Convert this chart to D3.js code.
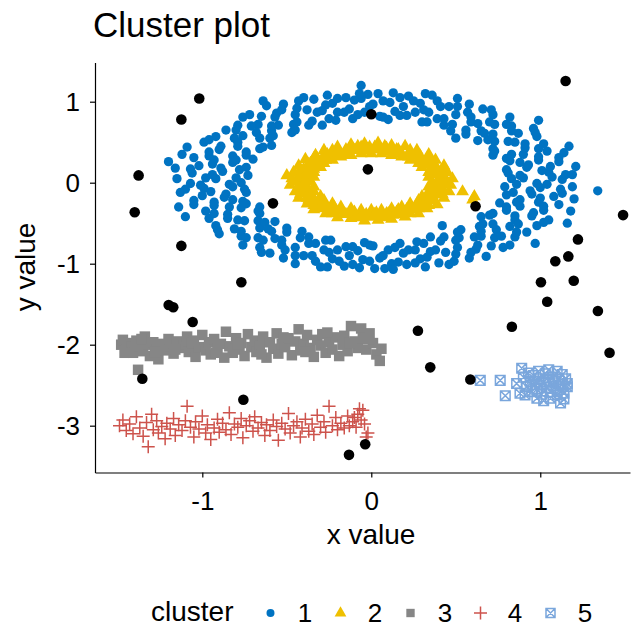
<!DOCTYPE html>
<html>
<head>
<meta charset="utf-8">
<script src="https://cdn.jsdelivr.net/npm/d3@7"></script>
<style>
  body { margin: 0; background: #fff; }
  svg { font-family: "Liberation Sans", Arial, Helvetica, sans-serif; }
</style>
</head>
<body>
<svg id="chart" width="643" height="628"></svg>
<script>
// cluster labels and the jco palette used by fviz_cluster
const clusterNames = ["1", "2", "3", "4", "5"];
const clusterColors = ["#0073C2", "#EFC000", "#868686", "#CD534C", "#7AA6DC"];
const xTicks = [-1, 0, 1];
const yTicks = [1, 0, -1, -2, -3];

// cluster 1: the big ring
const cluster1 = [
  [0.83,0.05],[0.98,-0.01],[1.13,0.04],[0.88,0.09],[1.05,0.13],[1.15,0.10],[0.80,0.16],[0.92,0.19],[1.06,0.20],
  [0.88,0.25],[0.99,0.28],[1.11,0.31],[0.80,0.30],[0.90,0.35],[1.04,0.39],[0.72,0.34],[0.91,0.43],[1.02,0.48],
  [0.72,0.42],[0.85,0.50],[0.98,0.57],[0.73,0.51],[0.87,0.61],[0.96,0.67],[0.63,0.52],[0.72,0.60],[0.83,0.70],
  [0.65,0.64],[0.73,0.72],[0.82,0.81],[0.56,0.65],[0.63,0.73],[0.72,0.84],[0.47,0.64],[0.59,0.81],[0.66,0.91],
  [0.43,0.71],[0.50,0.84],[0.58,0.97],[0.39,0.79],[0.46,0.94],[0.51,1.04],[0.30,0.75],[0.34,0.87],[0.39,1.01],
  [0.26,0.87],[0.29,0.98],[0.32,1.10],[0.17,0.83],[0.19,0.94],[0.22,1.07],[0.10,0.78],[0.11,0.99],[0.13,1.11],
  [0.05,0.82],[0.01,0.97],[0.04,1.10],[-0.04,0.87],[-0.06,1.04],[-0.07,1.10],[-0.11,0.79],[-0.13,0.91],[-0.15,1.05],
  [-0.20,0.87],[-0.23,0.98],[-0.26,1.08],[-0.25,0.79],[-0.29,0.89],[-0.34,1.03],[-0.29,0.71],[-0.38,0.90],[-0.43,1.01],
  [-0.37,0.71],[-0.45,0.84],[-0.52,0.97],[-0.46,0.72],[-0.56,0.86],[-0.62,0.95],[-0.47,0.62],[-0.55,0.71],[-0.65,0.82],
  [-0.59,0.64],[-0.67,0.72],[-0.76,0.81],[-0.60,0.55],[-0.68,0.62],[-0.79,0.71],[-0.59,0.46],[-0.76,0.58],[-0.86,0.65],
  [-0.66,0.42],[-0.79,0.50],[-0.92,0.57],[-0.74,0.38],[-0.89,0.45],[-0.99,0.50],[-0.70,0.29],[-0.82,0.33],[-0.96,0.38],
  [-0.82,0.25],[-0.93,0.28],[-1.05,0.31],[-0.78,0.16],[-0.89,0.18],[-1.02,0.21],[-0.73,0.09],[-0.94,0.10],[-1.06,0.12],
  [-0.77,0.00],[-0.92,0.05],[-1.07,-0.01],[-0.82,-0.05],[-0.99,-0.07],[-1.10,-0.08],[-0.74,-0.12],[-0.86,-0.14],[-1.00,-0.16],
  [-0.82,-0.21],[-0.93,-0.24],[-1.05,-0.27],[-0.74,-0.26],[-0.84,-0.30],[-0.98,-0.35],[-0.66,-0.30],[-0.85,-0.39],[-0.96,-0.44],
  [-0.66,-0.38],[-0.79,-0.46],[-0.92,-0.53],[-0.67,-0.47],[-0.81,-0.57],[-0.90,-0.63],[-0.57,-0.48],[-0.66,-0.56],[-0.77,-0.66],
  [-0.59,-0.60],[-0.67,-0.68],[-0.76,-0.77],[-0.50,-0.61],[-0.57,-0.69],[-0.66,-0.80],[-0.41,-0.60],[-0.53,-0.77],[-0.60,-0.87],
  [-0.37,-0.67],[-0.45,-0.80],[-0.52,-0.93],[-0.33,-0.75],[-0.40,-0.90],[-0.45,-1.00],[-0.24,-0.71],[-0.28,-0.83],[-0.33,-0.97],
  [-0.20,-0.83],[-0.23,-0.94],[-0.26,-1.04],[-0.11,-0.79],[-0.13,-0.90],[-0.16,-1.03],[-0.04,-0.74],[-0.05,-0.95],[-0.07,-1.05],
  [0.01,-0.78],[0.05,-0.93],[0.02,-1.06],[0.10,-0.83],[0.12,-1.00],[0.13,-1.07],[0.17,-0.75],[0.19,-0.87],[0.21,-1.01],
  [0.26,-0.83],[0.29,-0.94],[0.32,-1.04],[0.31,-0.75],[0.35,-0.85],[0.40,-0.99],[0.35,-0.67],[0.44,-0.86],[0.49,-0.97],
  [0.43,-0.67],[0.51,-0.80],[0.58,-0.93],[0.52,-0.68],[0.62,-0.82],[0.68,-0.91],[0.53,-0.58],[0.61,-0.67],[0.71,-0.78],
  [0.65,-0.60],[0.73,-0.68],[0.82,-0.77],[0.66,-0.51],[0.74,-0.58],[0.85,-0.67],[0.65,-0.42],[0.82,-0.54],[0.92,-0.61],
  [0.72,-0.38],[0.85,-0.46],[0.98,-0.53],[0.80,-0.34],[0.95,-0.41],[1.05,-0.46],[0.76,-0.25],[0.88,-0.29],[1.02,-0.34],
  [0.88,-0.21],[0.99,-0.24],[1.11,-0.27],[0.84,-0.12],[0.95,-0.14],[1.08,-0.17],[0.79,-0.05],[1.00,-0.06],[1.12,-0.08],
  [0.90,0.06],[1.07,0.07],[0.81,0.12],[1.01,0.15],[0.93,0.22],[1.11,0.26],[0.82,0.27],[0.99,0.32],[0.83,0.35],[0.99,0.42],
  [0.73,0.39],[0.91,0.48],[0.81,0.51],[0.97,0.62],[0.69,0.53],[0.83,0.64],[0.67,0.61],[0.80,0.72],[0.56,0.60],[0.70,0.75],
  [0.59,0.75],[0.71,0.90],[0.48,0.72],[0.57,0.87],[0.43,0.79],[0.51,0.94],[0.33,0.75],[0.41,0.94],[0.31,0.90],[0.36,1.08],
  [0.21,0.83],[0.25,1.01],[0.14,0.88],[0.17,1.05],[0.07,0.81],[0.07,1.01],[-0.01,0.94],[-0.02,1.09],[-0.08,0.84],[-0.10,1.02],
  [-0.16,0.87],[-0.20,1.04],[-0.21,0.77],[-0.27,0.96],[-0.32,0.87],[-0.40,1.05],[-0.35,0.76],[-0.44,0.92],[-0.44,0.75],[-0.53,0.90],
  [-0.45,0.65],[-0.57,0.81],[-0.59,0.70],[-0.72,0.84],[-0.58,0.58],[-0.71,0.70],[-0.66,0.55],[-0.80,0.65],[-0.64,0.44],[-0.81,0.55],
  [-0.79,0.45],[-0.96,0.53],[-0.74,0.34],[-0.90,0.41],[-0.80,0.28],[-0.96,0.33],[-0.74,0.19],[-0.94,0.23],[-0.88,0.14],[-1.07,0.17],
  [-0.80,0.06],[-0.98,0.06],[-0.84,-0.02],[-1.01,-0.03],[-0.75,-0.08],[-0.95,-0.11],[-0.87,-0.18],[-1.05,-0.22],[-0.76,-0.23],[-0.93,-0.28],
  [-0.77,-0.31],[-0.93,-0.38],[-0.67,-0.35],[-0.85,-0.44],[-0.75,-0.47],[-0.91,-0.58],[-0.63,-0.49],[-0.77,-0.60],[-0.61,-0.57],[-0.74,-0.68],
  [-0.50,-0.56],[-0.64,-0.71],[-0.53,-0.71],[-0.65,-0.86],[-0.42,-0.68],[-0.51,-0.83],[-0.37,-0.75],[-0.45,-0.90],[-0.27,-0.71],[-0.35,-0.90],
  [-0.25,-0.86],[-0.30,-1.04],[-0.15,-0.79],[-0.19,-0.97],[-0.08,-0.84],[-0.11,-1.01],[-0.01,-0.77],[-0.01,-0.97],[0.07,-0.90],[0.08,-1.06],
  [0.14,-0.80],[0.16,-0.98],[0.22,-0.83],[0.26,-0.99],[0.27,-0.73],[0.33,-0.92],[0.38,-0.83],[0.46,-1.01],[0.41,-0.72],[0.50,-0.88],
  [0.50,-0.71],[0.59,-0.86],[0.51,-0.61],[0.63,-0.77],[0.65,-0.66],[0.78,-0.80],[0.64,-0.54],[0.77,-0.66],[0.72,-0.51],[0.86,-0.61],
  [0.70,-0.40],[0.87,-0.51],[0.85,-0.41],[1.02,-0.49],[0.80,-0.30],[0.96,-0.37],[0.86,-0.24],[1.02,-0.29],[0.80,-0.15],[1.00,-0.19],
  [0.94,-0.10],[1.13,-0.13],[0.86,-0.02],[1.04,-0.02],
  [1.34,-0.10],[0.99,0.77],[-0.06,1.20],[-1.20,0.26],[-0.64,1.01],[1.19,0.10],[1.14,0.37],[0.50,0.55],[0.42,-0.53],[0.97,-0.75],
  [-1.15,0.05],[-1.13,-0.12],[-1.16,0.18],[-1.12,0.35],[-1.14,-0.30],[-1.10,-0.42],[-1.09,0.44],
  [1.19,-0.05],[1.21,0.20],[1.18,-0.35],[1.17,0.45],[1.20,-0.20],[1.16,-0.50]
];

// cluster 2: the small inner ring
const cluster2 = [
  [0.36,0.01],[0.45,0.01],[0.40,0.04],[0.48,0.05],[0.34,0.07],[0.42,0.09],[0.37,0.11],[0.45,0.13],[0.34,0.13],[0.42,0.16],
  [0.36,0.18],[0.43,0.21],[0.30,0.19],[0.37,0.23],[0.31,0.23],[0.38,0.28],[0.28,0.24],[0.34,0.30],[0.28,0.29],[0.34,0.35],
  [0.23,0.28],[0.28,0.34],[0.22,0.32],[0.27,0.40],[0.18,0.32],[0.23,0.40],[0.17,0.37],[0.20,0.45],[0.12,0.34],[0.15,0.41],
  [0.10,0.38],[0.12,0.46],[0.06,0.36],[0.08,0.45],[0.03,0.41],[0.04,0.49],[0.00,0.36],[-0.01,0.44],[-0.03,0.39],[-0.04,0.48],
  [-0.06,0.36],[-0.08,0.45],[-0.10,0.40],[-0.12,0.47],[-0.12,0.34],[-0.15,0.41],[-0.16,0.35],[-0.20,0.44],[-0.18,0.32],[-0.23,0.40],
  [-0.23,0.34],[-0.28,0.40],[-0.23,0.28],[-0.28,0.34],[-0.27,0.28],[-0.33,0.34],[-0.28,0.24],[-0.34,0.30],[-0.33,0.24],[-0.39,0.29],
  [-0.30,0.19],[-0.37,0.23],[-0.34,0.17],[-0.43,0.21],[-0.34,0.13],[-0.42,0.16],[-0.39,0.11],[-0.46,0.13],[-0.34,0.07],[-0.42,0.09],
  [-0.38,0.04],[-0.47,0.05],[-0.36,0.01],[-0.45,0.01],[-0.40,-0.02],[-0.48,-0.03],[-0.34,-0.05],[-0.42,-0.07],[-0.37,-0.09],[-0.45,-0.11],
  [-0.34,-0.11],[-0.42,-0.14],[-0.36,-0.16],[-0.43,-0.19],[-0.30,-0.17],[-0.37,-0.21],[-0.31,-0.21],[-0.38,-0.26],[-0.28,-0.22],[-0.34,-0.28],
  [-0.28,-0.27],[-0.34,-0.33],[-0.23,-0.26],[-0.28,-0.32],[-0.22,-0.30],[-0.27,-0.38],[-0.18,-0.30],[-0.23,-0.38],[-0.17,-0.35],[-0.20,-0.43],
  [-0.12,-0.32],[-0.15,-0.39],[-0.10,-0.36],[-0.12,-0.44],[-0.06,-0.34],[-0.08,-0.43],[-0.03,-0.39],[-0.04,-0.47],[0.00,-0.34],[0.01,-0.42],
  [0.03,-0.37],[0.04,-0.46],[0.06,-0.34],[0.08,-0.43],[0.10,-0.38],[0.12,-0.45],[0.12,-0.32],[0.15,-0.39],[0.16,-0.33],[0.20,-0.42],
  [0.18,-0.30],[0.23,-0.38],[0.23,-0.32],[0.28,-0.38],[0.23,-0.26],[0.28,-0.32],[0.27,-0.26],[0.33,-0.32],[0.28,-0.22],[0.34,-0.28],
  [0.33,-0.22],[0.39,-0.27],[0.30,-0.17],[0.37,-0.21],[0.34,-0.15],[0.43,-0.19],[0.34,-0.11],[0.42,-0.14],[0.39,-0.09],[0.46,-0.11],
  [0.34,-0.05],[0.42,-0.07],[0.38,-0.02],[0.47,-0.03],
  [0.41,0.03],[0.43,0.07],[0.39,0.10],[0.41,0.14],[0.37,0.16],[0.38,0.21],[0.34,0.22],[0.34,0.27],[0.29,0.28],[0.29,0.33],
  [0.24,0.33],[0.23,0.37],[0.18,0.36],[0.16,0.41],[0.12,0.39],[0.09,0.43],[0.05,0.41],[0.02,0.44],
  [-0.02,0.41],[-0.06,0.44],[-0.09,0.40],[-0.13,0.42],[-0.15,0.38],[-0.20,0.39],[-0.21,0.35],[-0.26,0.35],[-0.27,0.30],[-0.32,0.30],
  [-0.32,0.25],[-0.36,0.24],[-0.35,0.19],[-0.40,0.17],[-0.38,0.13],[-0.42,0.10],[-0.40,0.06],[-0.43,0.03],
  [-0.40,-0.01],[-0.43,-0.05],[-0.39,-0.08],[-0.41,-0.12],[-0.37,-0.14],[-0.38,-0.19],[-0.34,-0.20],[-0.34,-0.25],[-0.29,-0.26],[-0.29,-0.31],
  [-0.24,-0.31],[-0.23,-0.35],[-0.18,-0.34],[-0.16,-0.39],[-0.12,-0.37],[-0.09,-0.41],[-0.05,-0.39],[-0.02,-0.42],
  [0.02,-0.39],[0.06,-0.42],[0.09,-0.38],[0.13,-0.40],[0.15,-0.36],[0.20,-0.37],[0.21,-0.33],[0.26,-0.33],[0.27,-0.28],[0.32,-0.28],
  [0.32,-0.23],[0.36,-0.22],[0.35,-0.17],[0.40,-0.15],[0.38,-0.11],[0.42,-0.08],[0.40,-0.04],[0.43,-0.01],
  [0.54,-0.11],[0.60,-0.21],[0.61,-0.17],[-0.50,0.09]
];

// cluster 3: grey band around y = -2
const cluster3 = [
  [-1.48,-2.00],[-1.47,-1.94],[-1.45,-2.06],[-1.44,-1.98],[-1.42,-2.03],[-1.41,-2.10],[-1.39,-1.95],[-1.38,-2.31],[-1.37,-2.02],[-1.35,-2.08],
  [-1.34,-1.90],[-1.32,-2.00],[-1.31,-2.14],[-1.29,-1.97],[-1.27,-2.05],[-1.26,-2.18],[-1.24,-1.99],[-1.22,-2.07],[-1.20,-1.93],[-1.19,-2.02],
  [-1.17,-2.11],[-1.15,-1.96],[-1.13,-2.04],[-1.11,-2.00],[-1.09,-1.90],[-1.08,-2.09],[-1.06,-1.98],[-1.04,-2.15],[-1.02,-2.03],[-1.00,-1.88],
  [-0.98,-2.07],[-0.96,-1.97],[-0.95,-2.12],[-0.93,-1.93],[-0.91,-2.05],[-0.89,-1.99],[-0.87,-2.16],[-0.86,-1.84],[-0.84,-2.02],[-0.82,-2.10],
  [-0.80,-1.92],[-0.78,-2.06],[-0.77,-1.98],[-0.75,-2.14],[-0.73,-1.87],[-0.71,-2.03],[-0.69,-1.95],[-0.68,-2.09],[-0.66,-2.01],[-0.64,-1.90],
  [-0.62,-2.16],[-0.60,-1.97],[-0.58,-2.05],[-0.56,-1.86],[-0.55,-2.11],[-0.53,-1.99],[-0.51,-2.03],[-0.49,-1.92],[-0.47,-2.13],[-0.45,-1.96],
  [-0.43,-1.81],[-0.42,-2.07],[-0.40,-1.99],[-0.38,-1.88],[-0.36,-2.04],[-0.34,-2.15],[-0.32,-1.94],[-0.30,-2.01],[-0.29,-1.87],[-0.27,-2.10],
  [-0.25,-1.97],[-0.23,-2.06],[-0.21,-1.91],[-0.19,-2.14],[-0.17,-2.00],[-0.16,-1.89],[-0.14,-2.08],[-0.12,-1.77],[-0.10,-1.96],[-0.08,-2.04],
  [-0.06,-1.80],[-0.05,-1.92],[-0.03,-2.06],[-0.01,-1.86],[0.01,-1.98],[0.03,-2.12],[0.05,-2.20],[0.06,-2.05],
  [-1.46,-2.10],[-1.36,-1.93],[-1.28,-2.09],[-1.16,-2.06],[-1.05,-1.95],[-0.92,-2.10],[-0.79,-2.00],[-0.65,-2.12],[-0.52,-1.91],[-0.39,-2.09],
  [-0.26,-1.85],[-0.13,-1.98],[-0.02,-1.93]
];

// cluster 4: red band around y = -3
const cluster4 = [
  [-1.49,-3.00],[-1.47,-2.93],[-1.45,-3.06],[-1.43,-2.98],[-1.41,-3.10],[-1.39,-2.89],[-1.37,-3.03],[-1.35,-3.13],[-1.33,-2.96],[-1.32,-3.26],
  [-1.30,-2.86],[-1.29,-3.05],[-1.27,-2.94],[-1.26,-3.09],[-1.24,-3.01],[-1.22,-3.16],[-1.21,-2.97],[-1.19,-3.04],[-1.17,-2.91],[-1.16,-3.12],
  [-1.14,-2.99],[-1.12,-3.06],[-1.10,-2.94],[-1.09,-2.76],[-1.07,-3.02],[-1.05,-3.14],[-1.04,-2.95],[-1.02,-3.04],[-1.00,-2.88],[-0.98,-3.09],
  [-0.97,-2.99],[-0.95,-3.17],[-0.93,-3.03],[-0.91,-2.92],[-0.90,-3.08],[-0.88,-2.97],[-0.86,-3.05],[-0.84,-2.84],[-0.83,-3.11],[-0.81,-2.98],
  [-0.79,-3.02],[-0.77,-2.91],[-0.76,-3.15],[-0.74,-3.00],[-0.72,-2.94],[-0.70,-3.07],[-0.69,-2.89],[-0.67,-3.03],[-0.65,-2.96],[-0.63,-3.12],
  [-0.62,-2.99],[-0.60,-3.06],[-0.58,-2.93],[-0.56,-3.01],[-0.55,-3.18],[-0.53,-2.97],[-0.51,-3.04],[-0.49,-2.85],[-0.48,-3.09],[-0.46,-3.00],
  [-0.44,-2.95],[-0.42,-3.14],[-0.41,-3.03],[-0.39,-2.92],[-0.37,-3.07],[-0.35,-2.98],[-0.34,-3.11],[-0.32,-2.87],[-0.30,-3.02],[-0.28,-2.95],
  [-0.27,-3.08],[-0.25,-2.76],[-0.23,-3.00],[-0.21,-2.90],[-0.20,-3.05],[-0.18,-2.97],[-0.16,-3.03],[-0.14,-2.88],[-0.13,-3.00],[-0.11,-2.95],
  [-0.09,-3.02],[-0.08,-2.86],[-0.06,-2.93],[-0.05,-2.81],[-0.04,-2.98],[-0.03,-3.14],[-0.02,-3.09],[-0.07,-2.79],[-0.10,-2.90]
];

// cluster 5: small light blue blob
const cluster5 = [
  [0.645,-2.44],[0.763,-2.44],[0.793,-2.63],[0.89,-2.29],[1.05,-2.31],[1.13,-2.37],[1.16,-2.48],[1.12,-2.72],[0.98,-2.66],[0.88,-2.60],
  [0.86,-2.48],[0.90,-2.40],[0.92,-2.52],[0.94,-2.45],[0.95,-2.58],[0.96,-2.38],[0.97,-2.49],[0.98,-2.55],[0.99,-2.42],[1.00,-2.50],
  [1.01,-2.61],[1.02,-2.46],[1.03,-2.36],[1.04,-2.53],[1.05,-2.44],[1.06,-2.58],[1.07,-2.40],[1.08,-2.51],[1.09,-2.47],[1.10,-2.62],
  [1.11,-2.43],[1.12,-2.55],[1.13,-2.49],[1.14,-2.60],[1.15,-2.42],[0.93,-2.35],[0.99,-2.33],[1.06,-2.66],[1.10,-2.33],[0.91,-2.62],
  [1.02,-2.69],[1.14,-2.67],[1.16,-2.52]
];

// noise points (outliers, drawn black)
const noise = [
  [-1.018,1.04],[-1.124,0.78],[-1.377,0.09],[-1.40,-0.365],[-0.582,-0.255],[0.0,0.845],[-0.02,0.165],[0.617,-0.29],
  [1.15,1.255],[1.49,-0.40],[1.223,-0.70],[1.166,-0.91],[1.089,-0.97],[1.004,-1.23],[1.198,-1.21],[1.041,-1.47],
  [1.341,-1.584],[0.832,-1.778],[0.276,-1.827],[1.41,-2.10],[0.349,-2.28],[0.586,-2.43],[-1.124,-0.78],[-0.769,-1.23],
  [-1.199,-1.51],[-1.172,-1.538],[-1.057,-1.72],[-1.355,-2.42],[-0.757,-2.68],[-0.036,-3.23],[-0.132,-3.36]
];

const clusterData = [cluster1, cluster2, cluster3, cluster4, cluster5];

const svg = d3.select("#chart");

const x = d3.scaleLinear().domain([-1.635, 1.531]).range([95, 630]);
const y = d3.scaleLinear().domain([-3.578, 1.484]).range([472.5, 62.5]);

// marker shapes: circle, triangle, square, plus, boxed cross
const shapePaths = [
  d3.symbol(d3.symbolCircle, 68)(),
  d3.symbol(d3.symbolTriangle, 72)(),
  d3.symbol(d3.symbolSquare, 110)(),
  "M-6.5,0H6.5M0,-6.5V6.5",
  "M-4.8,-4.8H4.8V4.8H-4.8ZM-4.8,-4.8L4.8,4.8M4.8,-4.8L-4.8,4.8"
];
const legendPaths = [
  d3.symbol(d3.symbolCircle, 50)(),
  d3.symbol(d3.symbolTriangle, 60)(),
  d3.symbol(d3.symbolSquare, 70)(),
  "M-6.5,0H6.5M0,-6.5V6.5",
  "M-4.5,-4.5H4.5V4.5H-4.5ZM-4.5,-4.5L4.5,4.5M4.5,-4.5L-4.5,4.5"
];
const filled = [true, true, true, false, false];

function styleMark(sel, i) {
  if (filled[i]) {
    sel.attr("fill", clusterColors[i]).attr("stroke", "none");
  } else {
    sel.attr("fill", "none").attr("stroke", clusterColors[i]).attr("stroke-width", 1.5);
  }
}

const plot = svg.append("g");
clusterData.forEach((pts, i) => {
  plot.append("g")
    .selectAll("path")
    .data(pts)
    .join("path")
    .attr("d", shapePaths[i])
    .attr("transform", d => `translate(${x(d[0])},${y(d[1])})`)
    .call(styleMark, i);
});

plot.append("g")
  .selectAll("circle")
  .data(noise)
  .join("circle")
  .attr("cx", d => x(d[0]))
  .attr("cy", d => y(d[1]))
  .attr("r", 5.3)
  .attr("fill", "#000");

// axes
const xAxis = svg.append("g")
  .attr("transform", "translate(0,472.5)")
  .call(d3.axisBottom(x).tickValues(xTicks).tickSize(5).tickSizeOuter(0).tickPadding(14).tickFormat(d => String(d)));
const yAxis = svg.append("g")
  .attr("transform", "translate(95,0)")
  .call(d3.axisLeft(y).tickValues(yTicks).tickSize(5).tickSizeOuter(0).tickPadding(10).tickFormat(d => String(d)));

[xAxis, yAxis].forEach(a => {
  a.select(".domain").attr("stroke", "#000").attr("stroke-width", 1.2);
  a.selectAll(".tick line").attr("stroke", "#000").attr("stroke-width", 1.2);
  a.selectAll(".tick text").attr("fill", "#000").style("font-size", "26px").style("font-family", "inherit");
});

// titles
svg.append("text")
  .attr("x", 93).attr("y", 37)
  .style("font-size", "35px")
  .text("Cluster plot");

svg.append("text")
  .attr("x", 371).attr("y", 544)
  .attr("text-anchor", "middle")
  .style("font-size", "28px")
  .text("x value");

svg.append("text")
  .attr("transform", "translate(35,267) rotate(-90)")
  .attr("text-anchor", "middle")
  .style("font-size", "28px")
  .text("y value");

// legend
const legend = svg.append("g");
legend.append("text")
  .attr("x", 151).attr("y", 621)
  .style("font-size", "28px")
  .text("cluster");

const item = legend.selectAll("g.item")
  .data(clusterNames)
  .join("g")
  .attr("class", "item")
  .attr("transform", (d, i) => `translate(${270.5 + i * 70},613)`);

item.append("path")
  .attr("d", (d, i) => legendPaths[i])
  .each(function (d, i) { d3.select(this).call(styleMark, i); });

item.append("text")
  .attr("x", 34.5).attr("y", 9)
  .attr("text-anchor", "middle")
  .style("font-size", "26px")
  .text(d => d);
</script>
</body>
</html>
